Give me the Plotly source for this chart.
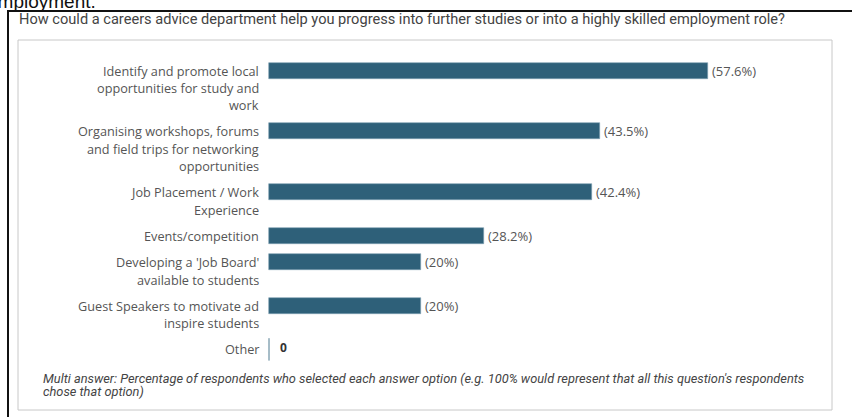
import plotly.graph_objects as go

# ---- data ----
categories = [
    "Identify and promote local<br>opportunities for study and<br>work",
    "Organising workshops, forums<br>and field trips for networking<br>opportunities",
    "Job Placement / Work<br>Experience",
    "Events/competition",
    "Developing a 'Job Board'<br>available to students",
    "Guest Speakers to motivate ad<br>inspire students",
    "Other",
]
values = [57.6, 43.5, 42.4, 28.2, 20, 20, 0]
value_labels = ["(57.6%)", "(43.5%)", "(42.4%)", "(28.2%)", "(20%)", "(20%)", "0"]

title_text = "How could a careers advice department help you progress into further studies or into a highly skilled employment role?"
footnote_lines = [
    "Multi answer: Percentage of respondents who selected each answer option (e.g. 100% would represent that all this question's respondents",
    "chose that option)",
]
heading_fragment = "employment."

# ---- layout constants (pixels) ----
W, H = 852, 417
ZERO_PX = 269          # pixel position of 0 %
PX_PER_PCT = 7.62      # pixels per percentage point
FIRST_ROW = 70.5
LINE_H = 17.3
ROW_GAP = 9
BAR_H = 16

BAR_COLOR = "#2e6079"
TEXT_GREY = "#555555"
LABEL_FONT = "Open Sans, Liberation Sans, Arial, sans-serif"

def px(x):
    return x / W

def py(y):
    return 1 - y / H

# row centres computed from the number of label lines
centers = []
cur = FIRST_ROW
for c in categories:
    centers.append(cur)
    n = len(c.split("<br>"))
    cur += n * LINE_H + ROW_GAP

nz = [i for i, v in enumerate(values) if v != 0]
zr = [i for i, v in enumerate(values) if v == 0]

fig = go.Figure()
fig.add_trace(go.Bar(
    orientation="h",
    x=[values[i] for i in nz],
    y=[centers[i] for i in nz],
    width=BAR_H,
    marker=dict(color=BAR_COLOR, line=dict(color="#7fa0b1", width=0.6)),
    hoverinfo="skip",
    showlegend=False,
))
fig.add_trace(go.Scatter(
    x=[values[i] for i in zr],
    y=[centers[i] for i in zr],
    mode="markers+text",
    marker=dict(symbol="line-ns", size=BAR_H, line=dict(color="#4f7a90", width=1)),
    text=["<b>" + value_labels[i] + "</b>" for i in zr],
    textposition="middle right",
    textfont=dict(family=LABEL_FONT, size=12, color="#333333"),
    cliponaxis=False,
    hoverinfo="skip",
    showlegend=False,
))

annotations = []
# value labels next to bars
for i in nz:
    annotations.append(dict(
        text=value_labels[i], xref="x", yref="y", x=values[i], y=centers[i],
        xanchor="left", yanchor="middle", xshift=2, showarrow=False,
        font=dict(family=LABEL_FONT, size=13, color=TEXT_GREY),
    ))
# category labels
for c, yc in zip(categories, centers):
    for j, line in enumerate(c.split("<br>")):
        annotations.append(dict(
            text=line, xref="paper", yref="y", x=px(261), y=yc + j * LINE_H,
            xanchor="right", yanchor="middle", showarrow=False,
            font=dict(family=LABEL_FONT, size=12.7, color=TEXT_GREY),
        ))

annotations.append(dict(
    text=title_text, xref="paper", yref="paper", x=px(17), y=py(19),
    xanchor="left", yanchor="middle", showarrow=False,
    font=dict(family="Roboto, sans-serif", size=14.6, color="#444444"),
))
for j, line in enumerate(footnote_lines):
    annotations.append(dict(
        text="<i>" + line + "</i>", xref="paper", yref="paper", x=px(41), y=py(378.5 + j * 13),
        xanchor="left", yanchor="middle", showarrow=False,
        font=dict(family="Roboto, sans-serif", size=12.8, color="#444444"),
    ))
annotations.append(dict(
    text=heading_fragment, xref="paper", yref="paper", x=px(98), y=py(14),
    xanchor="right", yanchor="bottom", showarrow=False,
    font=dict(family="Liberation Sans, Arial, sans-serif", size=19, color="#111111"),
))

shapes = [
    dict(type="rect", xref="paper", yref="paper", x0=px(8), x1=px(880), y0=py(11), y1=py(440),
         line=dict(color="#111111", width=2), layer="below"),
    dict(type="rect", xref="paper", yref="paper", x0=px(18), x1=px(832), y0=py(40), y1=py(410),
         line=dict(color="#c8c8c8", width=1), layer="below"),
]

fig.update_layout(
    width=W, height=H,
    margin=dict(l=0, r=0, t=0, b=0),
    paper_bgcolor="white", plot_bgcolor="white",
    xaxis=dict(range=[-ZERO_PX / PX_PER_PCT, (W - ZERO_PX) / PX_PER_PCT], visible=False, fixedrange=True),
    yaxis=dict(range=[H, 0], visible=False, fixedrange=True),
    annotations=annotations,
    shapes=shapes,
    bargap=0,
)

fig.write_html("out.html", config={"displayModeBar": False})
